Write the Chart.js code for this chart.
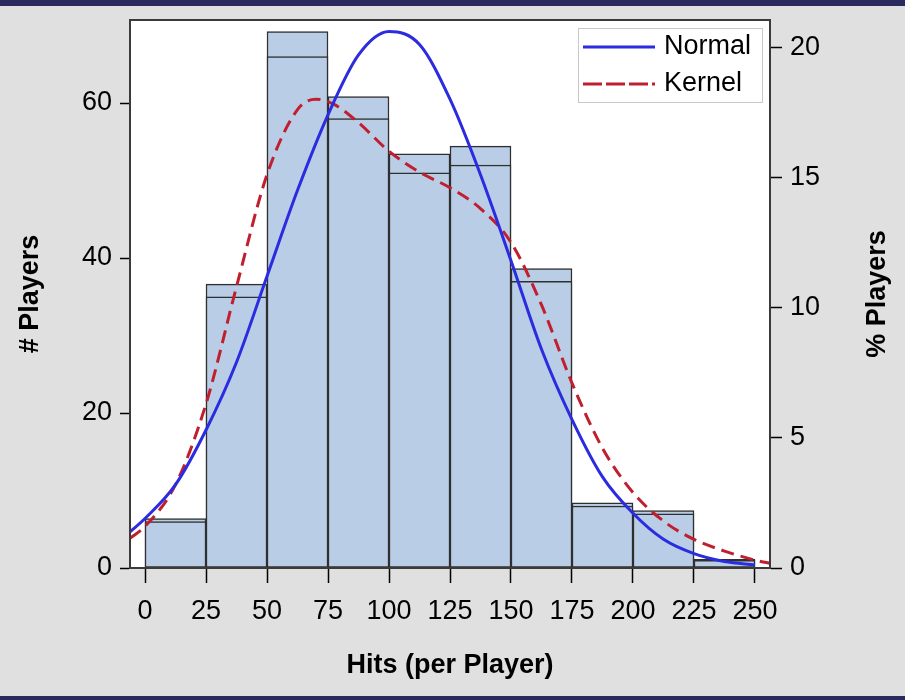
<!DOCTYPE html>
<html lang="en">
  <head>
    <meta charset="UTF-8" />
    <title>Hits per Player</title>
    <script src="https://cdn.jsdelivr.net/npm/chart.js"></script>
    <style>
      body {
        margin: 0;
        padding: 0;
        background-color: #e0e0e0;
      }
      #wrap {
        width: 905px;
        height: 700px;
      }
    </style>
  </head>
  <body>
    <div id="wrap">
      <canvas id="histChart" width="905" height="700"></canvas>
    </div>

    <script>
      // histogram bins (midpoints), counts and percents
      const binMids = [12.5, 37.5, 62.5, 87.5, 112.5, 137.5, 162.5, 187.5, 212.5, 237.5];
      const playerCounts = [6, 35, 66, 58, 51, 52, 37, 8, 7, 1];
      const playerPercents = [1.9, 10.9, 20.6, 18.1, 15.9, 16.2, 11.5, 2.5, 2.2, 0.33];

      const normalX = [-6, 0, 12.5, 25, 37.5, 50, 62.5, 75, 87.5, 100, 112.5, 125, 137.5, 150, 162.5, 175, 187.5, 200, 212.5, 225, 237.5, 250];
      const normalPct = [1.4, 1.9, 3.2, 5.3, 7.9, 11.2, 14.5, 17.4, 19.7, 20.6, 20.1, 18.0, 15.1, 11.8, 8.4, 5.7, 3.5, 2.1, 1.1, 0.55, 0.25, 0.12];
      const kernelX = [-6, 0, 12.5, 25, 37.5, 50, 62.5, 70, 77.5, 87.5, 100, 112.5, 125, 137.5, 150, 162.5, 175, 187.5, 200, 212.5, 225, 237.5, 250, 256];
      const kernelPct = [1.15, 1.6, 3.2, 6.3, 10.8, 15.1, 17.6, 18.0, 17.8, 17.1, 16.0, 15.2, 14.6, 13.8, 12.5, 10.1, 7.1, 4.6, 2.9, 1.8, 1.1, 0.65, 0.3, 0.18];

      const xTickValues = [0, 25, 50, 75, 100, 125, 150, 175, 200, 225, 250];
      const countTickValues = [0, 20, 40, 60];
      const percentTickValues = [0, 5, 10, 15, 20];

      const barFill = "#b9cee6";
      const barEdge = "#2f2f2f";
      const normalColor = "#2b2be0";
      const kernelColor = "#c01f2f";
      const kernelDash = [13, 7];

      const tickFont = { family: "'Liberation Sans', Arial, sans-serif", size: 27 };
      const titleFont = { family: "'Liberation Sans', Arial, sans-serif", size: 27, weight: "bold" };

      function toPoints(xs, ys) {
        return xs.map((x, i) => ({ x: x, y: ys[i] }));
      }

      function fixedTicks(values) {
        return function (scale) {
          scale.ticks = values.map((v) => ({ value: v }));
        };
      }

      const framePlugin = {
        id: "frame",
        beforeDraw(chart) {
          const { ctx, chartArea } = chart;
          ctx.save();
          ctx.fillStyle = "#e0e0e0";
          ctx.fillRect(0, 0, chart.width, chart.height);
          ctx.fillStyle = "#ffffff";
          ctx.fillRect(chartArea.left, chartArea.top, chartArea.right - chartArea.left, chartArea.bottom - chartArea.top);
          ctx.restore();
        },
        afterDraw(chart) {
          const { ctx, chartArea } = chart;
          ctx.save();
          // plot frame
          ctx.strokeStyle = "#3a3a3a";
          ctx.lineWidth = 2;
          ctx.strokeRect(chartArea.left, chartArea.top, chartArea.right - chartArea.left, chartArea.bottom - chartArea.top);

          // page bands
          ctx.fillStyle = "#2b2a5e";
          ctx.fillRect(0, 0, chart.width, 6);
          ctx.fillRect(0, chart.height - 4, chart.width, 4);

          // right axis title reads bottom to top
          ctx.fillStyle = "#000";
          ctx.font = "bold 27px 'Liberation Sans', Arial, sans-serif";
          ctx.textAlign = "center";
          ctx.textBaseline = "middle";
          ctx.translate(878, (chartArea.top + chartArea.bottom) / 2);
          ctx.rotate(-Math.PI / 2);
          ctx.fillText("% Players", 0, 0);
          ctx.restore();

          // legend
          ctx.save();
          const lx = chartArea.right - 192;
          const ly = chartArea.top + 8;
          ctx.fillStyle = "#fff";
          ctx.fillRect(lx, ly, 184, 74);
          ctx.strokeStyle = "#c8c8c8";
          ctx.lineWidth = 1;
          ctx.strokeRect(lx + 0.5, ly + 0.5, 184, 74);
          const rows = [
            { label: "Normal", color: normalColor, dash: [], y: ly + 19 },
            { label: "Kernel", color: kernelColor, dash: [19, 4], y: ly + 56 },
          ];
          rows.forEach((r) => {
            ctx.strokeStyle = r.color;
            ctx.lineWidth = 3;
            ctx.setLineDash(r.dash);
            ctx.beginPath();
            ctx.moveTo(lx + 5, r.y);
            ctx.lineTo(lx + 77, r.y);
            ctx.stroke();
            ctx.setLineDash([]);
            ctx.fillStyle = "#000";
            ctx.font = "27px 'Liberation Sans', Arial, sans-serif";
            ctx.textAlign = "left";
            ctx.textBaseline = "middle";
            ctx.fillText(r.label, lx + 86, r.y);
          });
          ctx.restore();
        },
      };

      const ctx = document.getElementById("histChart").getContext("2d");
      const histChart = new Chart(ctx, {
        type: "bar",
        data: {
          datasets: [
            {
              type: "line",
              label: "Normal",
              data: toPoints(normalX, normalPct),
              yAxisID: "y2",
              borderColor: normalColor,
              borderWidth: 3,
              pointRadius: 0,
              cubicInterpolationMode: "monotone",
              order: 0,
            },
            {
              type: "line",
              label: "Kernel",
              data: toPoints(kernelX, kernelPct),
              yAxisID: "y2",
              borderColor: kernelColor,
              borderWidth: 3,
              borderDash: kernelDash,
              pointRadius: 0,
              cubicInterpolationMode: "monotone",
              order: 0,
            },
            {
              label: "# Players",
              data: toPoints(binMids, playerCounts),
              yAxisID: "y",
              backgroundColor: barFill,
              borderColor: barEdge,
              borderWidth: 1.5,
              borderSkipped: false,
              grouped: false,
              barPercentage: 1,
              categoryPercentage: 1,
              order: 1,
            },
            {
              label: "% Players",
              data: toPoints(binMids, playerPercents),
              yAxisID: "y2",
              backgroundColor: barFill,
              borderColor: barEdge,
              borderWidth: 1.5,
              borderSkipped: false,
              grouped: false,
              barPercentage: 1,
              categoryPercentage: 1,
              order: 2,
            },
          ],
        },
        options: {
          responsive: false,
          animation: false,
          layout: { padding: { top: 20, left: 0, right: 0, bottom: 0 } },
          plugins: {
            legend: { display: false },
            tooltip: { enabled: false },
          },
          scales: {
            x: {
              type: "linear",
              offset: false,
              min: -6.15,
              max: 256.15,
              afterBuildTicks: fixedTicks(xTickValues),
              afterFit(scale) {
                scale.height = 132;
                scale.paddingLeft = 0;
                scale.paddingRight = 0;
              },
              grid: { offset: false, drawOnChartArea: false, tickLength: 15, tickColor: "#000", tickWidth: 1.5 },
              border: { display: true, color: "#000", width: 2 },
              ticks: { color: "#000", font: tickFont, padding: 12, maxRotation: 0 },
              title: { display: true, text: "Hits (per Player)", color: "#000", font: titleFont, padding: { top: 0, bottom: 18 } },
            },
            y: {
              position: "left",
              min: 0,
              max: 70.71,
              afterBuildTicks: fixedTicks(countTickValues),
              afterFit(scale) {
                scale.width = 130;
                scale.paddingTop = 0;
                scale.paddingBottom = 0;
              },
              grid: { drawOnChartArea: false, tickLength: 10, tickColor: "#000", tickWidth: 1.5 },
              border: { display: true, color: "#3a3a3a", width: 2 },
              ticks: { color: "#000", font: tickFont, padding: 8 },
              title: { display: true, text: "# Players", color: "#000", font: titleFont, padding: { top: 14, bottom: 0 } },
            },
            y2: {
              position: "right",
              min: 0,
              max: 21.04,
              afterBuildTicks: fixedTicks(percentTickValues),
              afterFit(scale) {
                scale.width = 135;
                scale.paddingTop = 0;
                scale.paddingBottom = 0;
              },
              grid: { drawOnChartArea: false, tickLength: 12, tickColor: "#000", tickWidth: 1.5 },
              border: { display: true, color: "#3a3a3a", width: 2 },
              ticks: { color: "#000", font: tickFont, padding: 8 },
            },
          },
        },
        plugins: [framePlugin],
      });
    </script>
  </body>
</html>
